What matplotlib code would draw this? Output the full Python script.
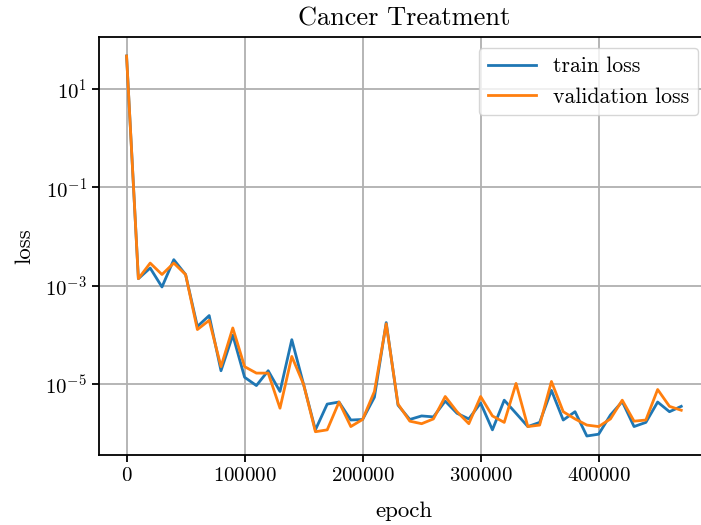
import numpy as np
import matplotlib
matplotlib.use("Agg")
import matplotlib.pyplot as plt
from matplotlib.ticker import NullLocator

plt.rcParams['font.family'] = 'serif'
plt.rcParams['font.serif'] = ['cmr10']
plt.rcParams['mathtext.fontset'] = 'cm'
plt.rcParams['axes.formatter.use_mathtext'] = True
plt.rcParams['axes.unicode_minus'] = True

# losses logged every 10000 epochs
epochs = np.arange(0, 480000, 10000)

train_loss = [46, 1.4e-3, 2.3e-3, 9.5e-4, 3.4e-3, 1.7e-3, 1.5e-4, 2.5e-4, 1.9e-5, 1.0e-4,
              1.4e-5, 9.5e-6, 1.9e-5, 7.2e-6, 8.1e-5, 1.0e-5, 1.2e-6, 4.0e-6, 4.4e-6, 1.9e-6,
              1.95e-6, 5.5e-6, 1.8e-4, 3.8e-6, 1.95e-6, 2.3e-6, 2.2e-6, 4.6e-6, 2.6e-6, 2.0e-6,
              4.2e-6, 1.2e-6, 4.8e-6, 2.6e-6, 1.4e-6, 1.7e-6, 7.6e-6, 1.9e-6, 2.8e-6, 9.0e-7,
              9.8e-7, 2.4e-6, 4.5e-6, 1.4e-6, 1.7e-6, 4.4e-6, 2.8e-6, 3.6e-6]

val_loss = [46, 1.4e-3, 2.9e-3, 1.7e-3, 2.9e-3, 1.7e-3, 1.3e-4, 2.0e-4, 2.3e-5, 1.4e-4,
            2.3e-5, 1.7e-5, 1.7e-5, 3.3e-6, 3.7e-5, 1.0e-5, 1.1e-6, 1.2e-6, 4.4e-6, 1.4e-6,
            1.95e-6, 7.2e-6, 1.7e-4, 4.0e-6, 1.8e-6, 1.6e-6, 2.0e-6, 5.7e-6, 2.8e-6, 1.6e-6,
            5.7e-6, 2.3e-6, 1.7e-6, 1.05e-5, 1.4e-6, 1.5e-6, 1.15e-5, 2.8e-6, 2.0e-6, 1.5e-6,
            1.4e-6, 2.0e-6, 4.8e-6, 1.8e-6, 1.9e-6, 7.9e-6, 3.6e-6, 3.0e-6]

yticks = [1e1, 1e-1, 1e-3, 1e-5]

fig, ax = plt.subplots(figsize=(7.01, 5.25), dpi=100)
# right edge of the axes runs a little past the canvas
fig.subplots_adjust(left=0.141, right=1.0114, top=0.9295, bottom=0.1333)

ax.plot(epochs, train_loss, label='train loss', linewidth=2)
ax.plot(epochs, val_loss, label='validation loss', linewidth=2)
ax.set_yscale('log')
ax.set_yticks(yticks)
ax.yaxis.set_minor_locator(NullLocator())
ax.tick_params(labelsize=15, width=1.3, length=5)
for s in ax.spines.values():
    s.set_linewidth(1.3)
ax.grid(True, linewidth=1.3, color='#b0b0b0')
ax.set_title('Cancer Treatment', fontsize=19, pad=8)
ax.set_xlabel('epoch', fontsize=16.5, labelpad=12)
ax.set_ylabel('loss', fontsize=16.5, labelpad=8)
ax.legend(loc='upper right', fontsize=15.7, handlelength=2.2)

fig.savefig('out.png', dpi=100)
